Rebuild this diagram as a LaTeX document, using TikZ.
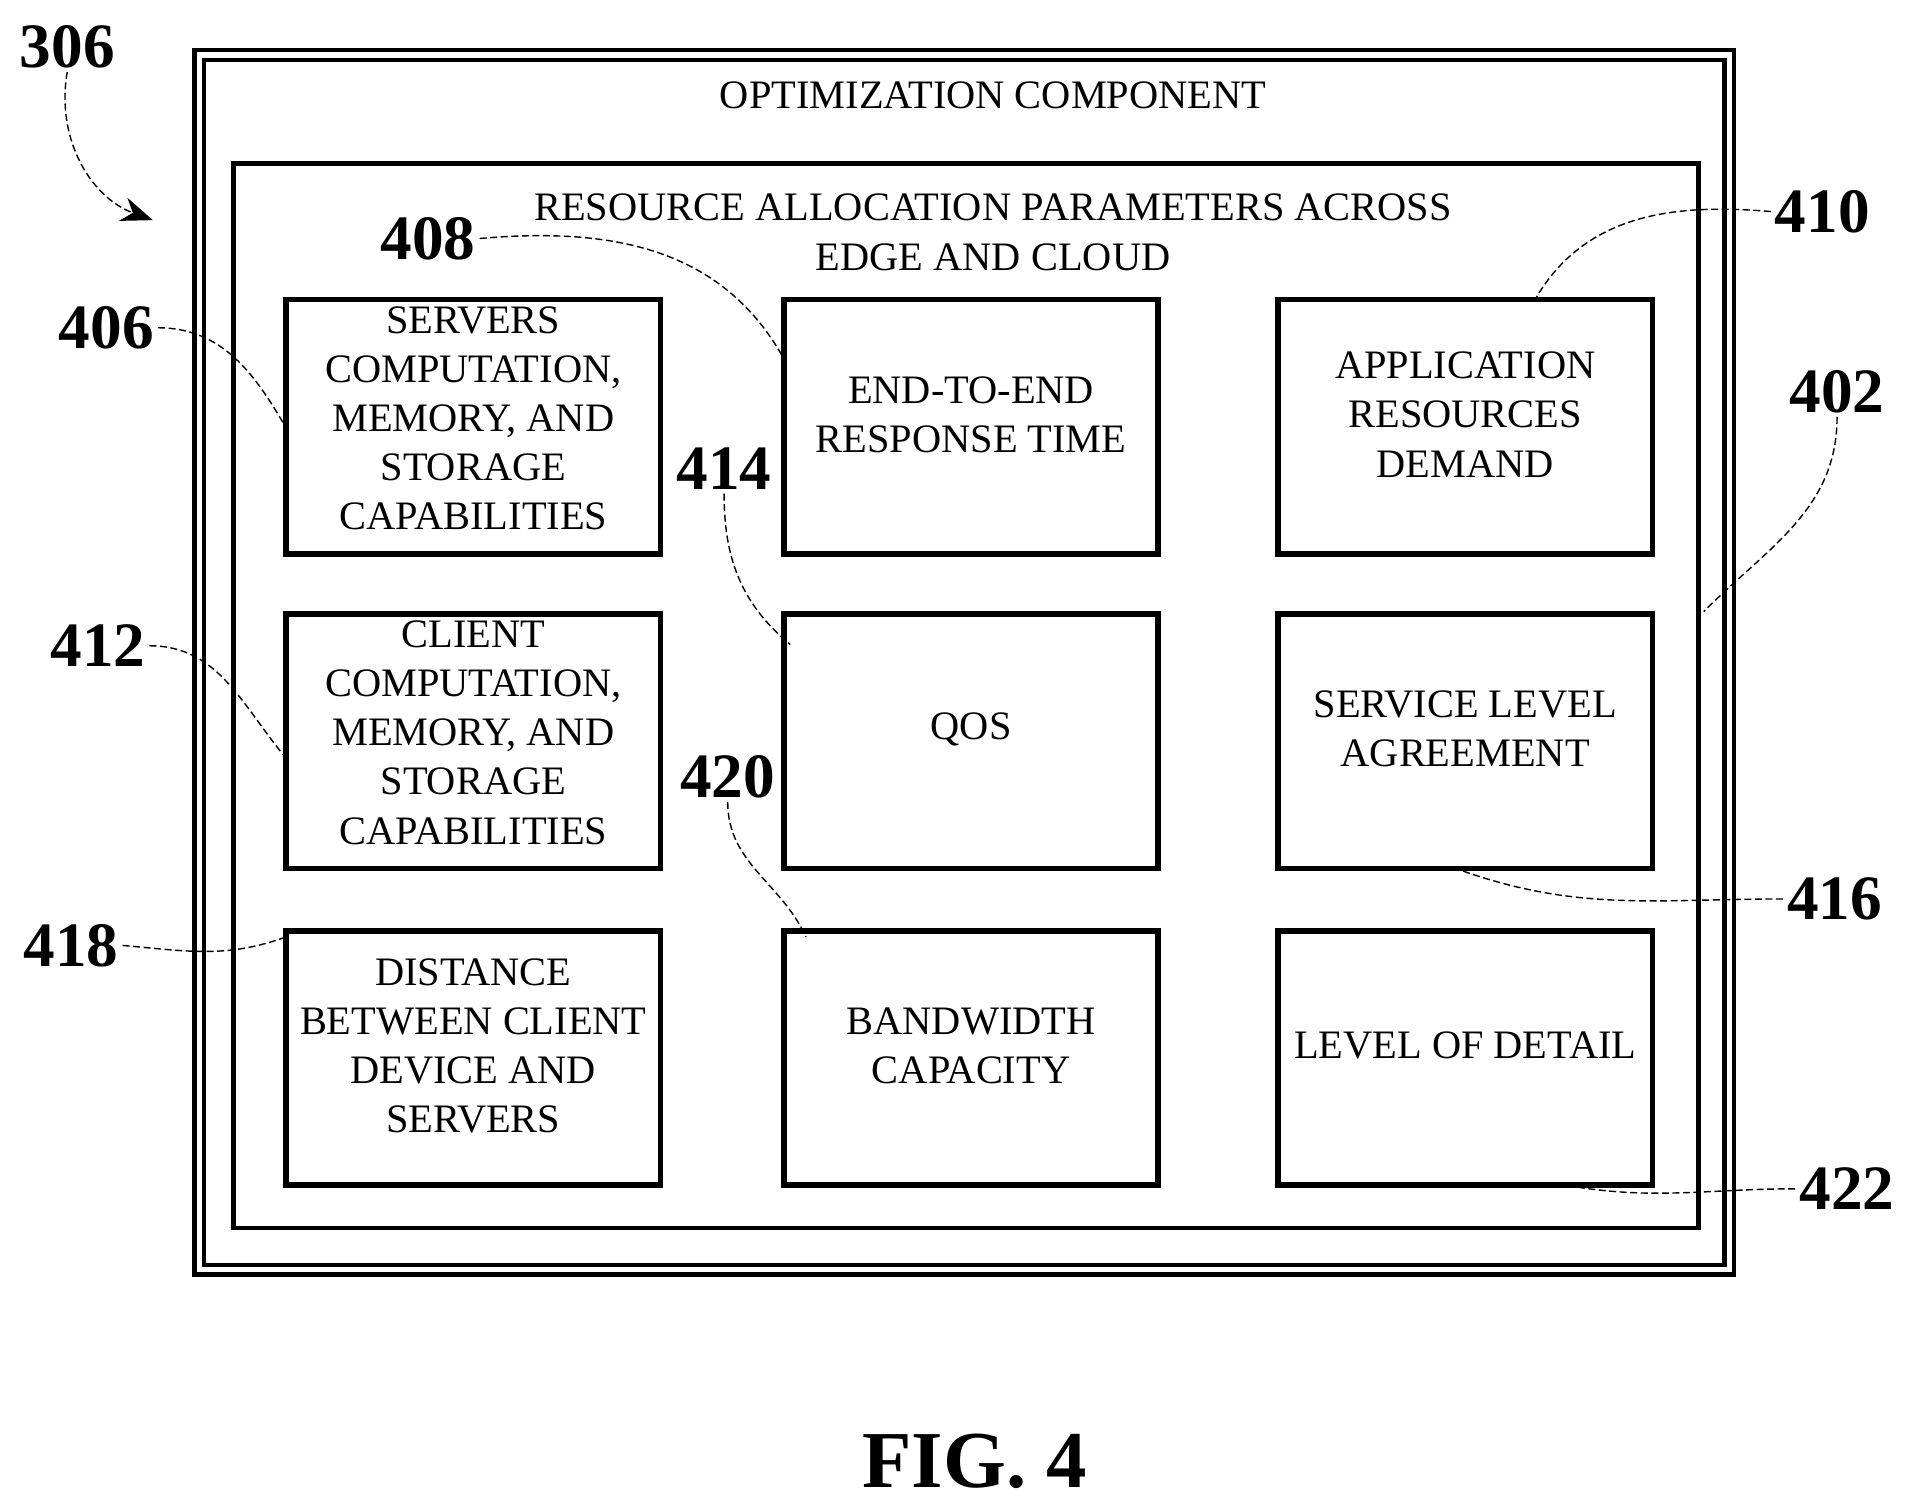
\documentclass[tikz,border=0pt]{standalone}
\usepackage{fontspec}
\setmainfont{Liberation Serif}
\usetikzlibrary{positioning,arrows.meta}

\begin{document}
\begin{tikzpicture}[x=0.01223cm,y=-0.01223cm,
param/.style={%
draw,
line width=1.6pt,
minimum width=306*0.01223cm,
minimum height=208*0.01223cm,
anchor=north west,
outer sep=0pt,
inner sep=0pt
},
ptext/.style={%
align=center,
font=\fontsize{11.5}{14}\selectfont,
inner sep=0pt
},
ref/.style={%
font=\fontsize{18}{20}\selectfont\bfseries,
inner sep=1pt
},
lead/.style={%
thin,
dash pattern=on 2pt off 1pt
},
]
\useasboundingbox (0,0) rectangle (1560,1230);
%% Frames
\draw[line width=1.2pt,double,double distance=1.6pt] (163,45) rectangle (1414,1038);
\draw[line width=1.4pt] (191,134) rectangle (1389,1004);
\node[ptext](opt)at(812,78){OPTIMIZATION COMPONENT};
\node[ptext](rap)at(812,190){RESOURCE ALLOCATION PARAMETERS ACROSS\\EDGE AND CLOUD};
%% Parameters
\node[param](srv)at(234,245){};
\node[param](e2e)at(641,245){};
\node[param](app)at(1045,245){};
\node[param](cli)at(234,502){};
\node[param](qos)at(641,502){};
\node[param](sla)at(1045,502){};
\node[param](dst)at(234,761){};
\node[param](bw)at(641,761){};
\node[param](lod)at(1045,761){};
\node[ptext]at([shift={(0,-7)}]srv.center){SERVERS\\COMPUTATION,\\MEMORY, AND\\STORAGE\\CAPABILITIES};
\node[ptext]at([shift={(0,-10)}]e2e.center){END-TO-END\\RESPONSE TIME};
\node[ptext]at([shift={(0,-10)}]app.center){APPLICATION\\RESOURCES\\DEMAND};
\node[ptext]at([shift={(0,-7)}]cli.center){CLIENT\\COMPUTATION,\\MEMORY, AND\\STORAGE\\CAPABILITIES};
\node[ptext]at([shift={(0,-10)}]qos.center){QOS};
\node[ptext]at([shift={(0,-10)}]sla.center){SERVICE LEVEL\\AGREEMENT};
\node[ptext]at([shift={(0,-10)}]dst.center){DISTANCE\\BETWEEN CLIENT\\DEVICE AND\\SERVERS};
\node[ptext]at([shift={(0,-10)}]bw.center){BANDWIDTH\\CAPACITY};
\node[ptext]at([shift={(0,-10)}]lod.center){LEVEL OF DETAIL};
%% Reference numerals
\node[ref](n306)at(55,38){306};
\node[ref](n408)at(350,195){408};
\node[ref](n410)at(1490,173){410};
\node[ref](n406)at(87,268){406};
\node[ref](n402)at(1502,320){402};
\node[ref](n414)at(592,383){414};
\node[ref](n412)at(80,528){412};
\node[ref](n420)at(595,635){420};
\node[ref](n416)at(1500,735){416};
\node[ref](n418)at(58,773){418};
\node[ref](n422)at(1510,972){422};
\node[font=\fontsize{23}{26}\selectfont\bfseries](fig)at(797,1195){FIG. 4};
\coordinate (c306) at (125,180);
\coordinate (c402) at (1393,500);
%% Leaders
\draw[lead,-{Stealth[length=9pt,width=7pt]}] (n306.south) to[out=-100,in=160] (c306);
\draw[lead] (n408.east) to[out=5,in=120] ([shift={(-2,45)}]e2e.north west);
\draw[lead] (n410.west) to[out=175,in=60] ([shift={(210,0)}]app.north west);
\draw[lead] (n406.east) to[out=0,in=120] ([shift={(0,105)}]srv.north west);
\draw[lead] (n402.south) to[out=-90,in=45] (c402);
\draw[lead] (n414.south) to[out=-90,in=140] ([shift={(5,25)}]qos.north west);
\draw[lead] (n412.east) to[out=0,in=130] ([shift={(0,118)}]cli.north west);
\draw[lead] (n420.south) to[out=-90,in=115] ([shift={(18,5)}]bw.north west);
\draw[lead] (n416.west) to[out=180,in=-20] ([shift={(145,0)}]sla.south west);
\draw[lead] (n418.east) to[out=-5,in=200] ([shift={(0,5)}]dst.north west);
\draw[lead] (n422.west) to[out=180,in=-10] ([shift={(235,0)}]lod.south west);
\end{tikzpicture}
\end{document}
